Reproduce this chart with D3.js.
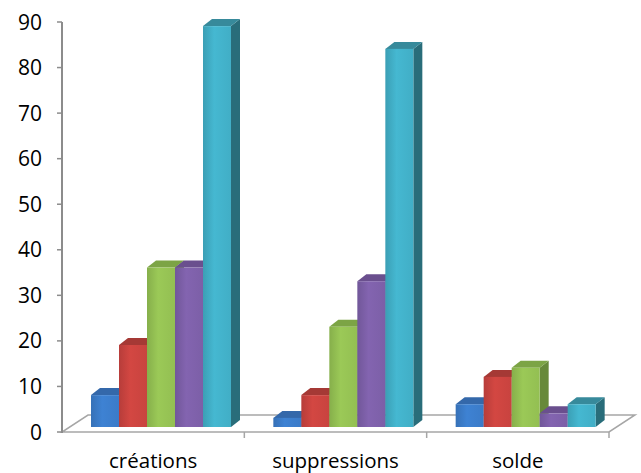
<!DOCTYPE html>
<html>
<head>
<meta charset="utf-8">
<script src="https://cdn.jsdelivr.net/npm/d3@7"></script>
<style>
  body { margin: 0; background: #fff; }
  svg { display: block; }
</style>
</head>
<body>
<svg id="chart" width="641" height="473"></svg>
<script>
// categories and series
const categories = ['créations', 'suppressions', 'solde']
const series1 = [7, 2, 5]
const series2 = [18, 7, 11]
const series3 = [35, 22, 13]
const series4 = [35, 32, 3]
const series5 = [88, 83, 5]
const yTicks = [0, 10, 20, 30, 40, 50, 60, 70, 80, 90]

const allSeries = [series1, series2, series3, series4, series5]
const palette = [
  { front: '#3b7bc8', side: '#2a5894', top: '#3468aa' },
  { front: '#c8433f', side: '#8c2c2a', top: '#a53935' },
  { front: '#93bf52', side: '#67893a', top: '#7ca445' },
  { front: '#7c5fa7', side: '#553e77', top: '#6a4f8e' },
  { front: '#41aec6', side: '#296d7a', top: '#378a9b' },
]

const width = 641
const height = 473
const margin = { top: 22, right: 32, bottom: 41, left: 62 }
const floorDepth = { dx: 26, dy: -17 }
const barDepth = { dx: 9, dy: -7 }
const barShift = { dx: 0, dy: -5 }

const svg = d3.select('#chart')

const y = d3.scaleLinear().domain([0, 90]).range([height - margin.bottom, margin.top])
const x = d3.scaleBand().domain(categories).range([margin.left, 609]).padding(0)
const inner = d3.scaleBand().domain(d3.range(allSeries.length)).range([29, 169]).padding(0)

const y0 = y(0)

// gradients for bar fronts
const defs = svg.append('defs')
palette.forEach((c, i) => {
  const g = defs.append('linearGradient').attr('id', 'grad' + i)
    .attr('x1', 0).attr('x2', 1).attr('y1', 0).attr('y2', 0)
  g.append('stop').attr('offset', '0%').attr('stop-color', d3.color(c.front).darker(0.25))
  g.append('stop').attr('offset', '40%').attr('stop-color', d3.color(c.front).brighter(0.15))
  g.append('stop').attr('offset', '100%').attr('stop-color', c.front)
})

// floor
svg.append('path')
  .attr('d', `M${margin.left},${y0} L609,${y0} L${609 + floorDepth.dx},${y0 + floorDepth.dy} L${margin.left + floorDepth.dx},${y0 + floorDepth.dy} Z`)
  .attr('fill', '#fff')
  .attr('stroke', '#a6a6a6')
  .attr('stroke-width', 1.5)

// y axis
const yAxis = svg.append('g').attr('id', 'y-axis')
yAxis.append('line')
  .attr('x1', margin.left).attr('x2', margin.left)
  .attr('y1', y(90)).attr('y2', y0 + 1)
  .attr('stroke', '#8c8c8c').attr('stroke-width', 2)
yAxis.selectAll('line.tick')
  .data(yTicks)
  .join('line')
  .attr('class', 'tick')
  .attr('x1', margin.left - 5).attr('x2', margin.left)
  .attr('y1', (d) => y(d)).attr('y2', (d) => y(d))
  .attr('stroke', '#8c8c8c').attr('stroke-width', 1.5)
yAxis.selectAll('text')
  .data(yTicks)
  .join('text')
  .attr('x', 42)
  .attr('y', (d) => y(d))
  .attr('dy', '0.36em')
  .attr('text-anchor', 'end')
  .attr('font-family', 'Open Sans, sans-serif')
  .attr('font-size', 21)
  .attr('fill', '#000')
  .text((d) => d)

// category ticks
svg.append('g')
  .selectAll('line')
  .data(categories)
  .join('line')
  .attr('x1', (d) => x(d) + x.bandwidth()).attr('x2', (d) => x(d) + x.bandwidth())
  .attr('y1', y0).attr('y2', y0 + 6)
  .attr('stroke', '#a6a6a6').attr('stroke-width', 1.5)

// bars
const bars = []
categories.forEach((cat, ci) => {
  allSeries.forEach((s, si) => {
    bars.push({ cat, si, value: s[ci] })
  })
})

const barG = svg.append('g').attr('id', 'bars')
  .selectAll('g')
  .data(bars)
  .join('g')

const bx = (d) => x(d.cat) + inner(d.si) + barShift.dx
const by = (d) => y(d.value) + barShift.dy
const bw = inner.bandwidth()
const bb = y0 + barShift.dy

// side face
barG.append('path')
  .attr('d', (d) => {
    const x1 = bx(d) + bw
    return `M${x1},${by(d)} L${x1 + barDepth.dx},${by(d) + barDepth.dy} L${x1 + barDepth.dx},${bb + barDepth.dy} L${x1},${bb} Z`
  })
  .attr('fill', (d) => palette[d.si].side)

// top face
barG.append('path')
  .attr('d', (d) => {
    const x0 = bx(d)
    const t = by(d)
    return `M${x0},${t} L${x0 + barDepth.dx},${t + barDepth.dy} L${x0 + bw + barDepth.dx},${t + barDepth.dy} L${x0 + bw},${t} Z`
  })
  .attr('fill', (d) => palette[d.si].top)

// front face
barG.append('rect')
  .attr('x', bx)
  .attr('y', by)
  .attr('width', bw)
  .attr('height', (d) => bb - by(d))
  .attr('fill', (d) => `url(#grad${d.si})`)

// category labels
svg.append('g')
  .selectAll('text')
  .data(categories)
  .join('text')
  .attr('x', (d) => x(d) + x.bandwidth() / 2)
  .attr('y', 468)
  .attr('text-anchor', 'middle')
  .attr('font-family', 'Open Sans, sans-serif')
  .attr('font-size', 20.5)
  .attr('fill', '#000')
  .text((d) => d)
</script>
</body>
</html>
